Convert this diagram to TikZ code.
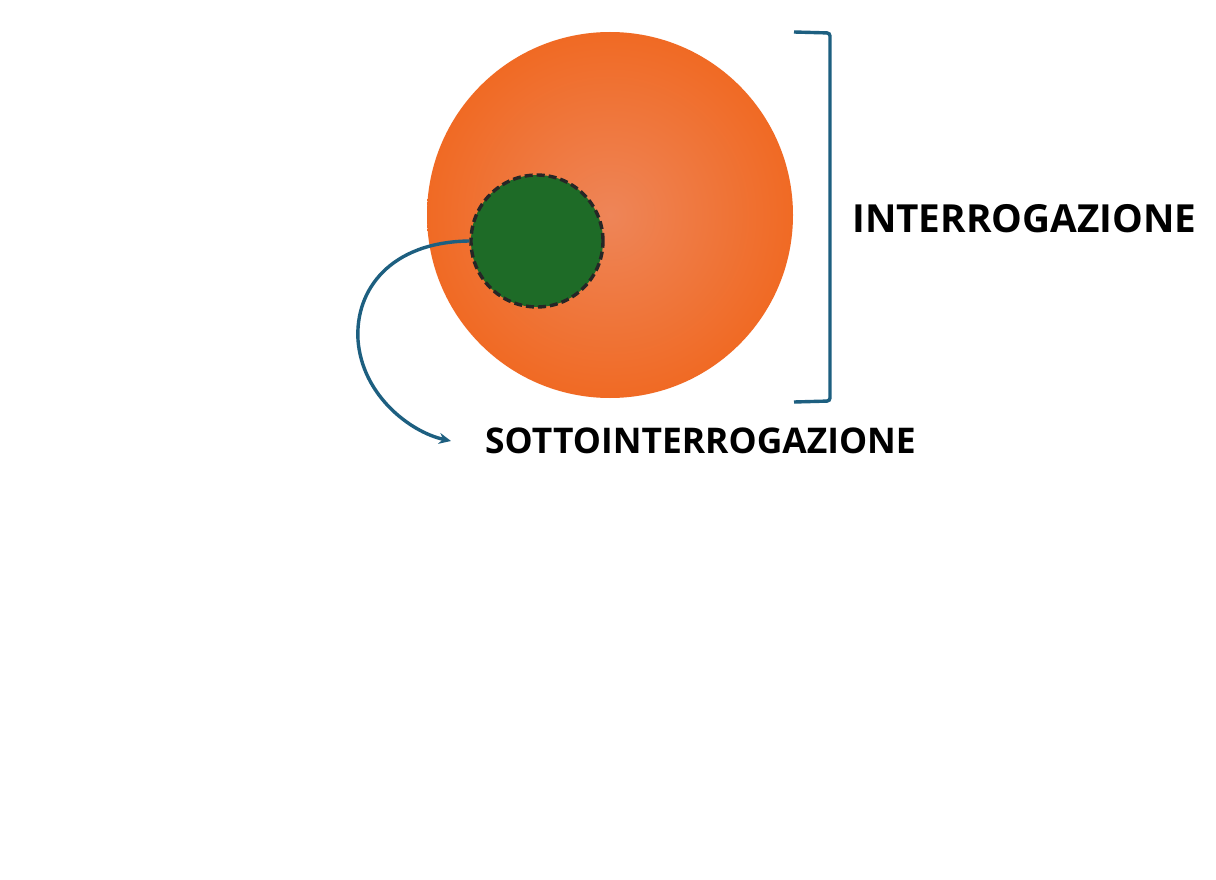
\documentclass[tikz,border=0pt]{standalone}
\usepackage{fontspec}
\setmainfont{Open Sans}
\usetikzlibrary{arrows.meta}
\definecolor{orangeA}{HTML}{F06A24}
\definecolor{orangeB}{HTML}{EE8558}
\definecolor{greenA}{HTML}{1E6B27}
\definecolor{blueA}{HTML}{1D5F80}
\tikzset{
  lbl/.style={font=\bfseries\fontsize{38.7}{42}\selectfont, text=black, inner sep=0pt},
  conn/.style={draw=blueA, line width=3.4pt},
}
\begin{document}
\begin{tikzpicture}[x=1pt,y=-1pt]
\useasboundingbox[fill=white] (0,0) rectangle (1216,880);
% big circle
\shade[inner color=orangeB, outer color=orangeA] (610,215) circle[radius=183];
\node[circle, minimum size=366pt, inner sep=0pt] (big) at (610,215) {};
% small circle
\node[circle, fill=greenA, draw=black!85, line width=3.4pt, dash pattern=on 8pt off 4pt,
      minimum size=132pt, inner sep=0pt] (small) at (537,241) {};
% labels
\node[lbl, anchor=west] (inter) at (852,219) {INTERROGAZIONE};
\node[lbl, anchor=west, font=\bfseries\fontsize{35.4}{38}\selectfont] (sotto) at (485,441) {SOTTOINTERROGAZIONE};
% bracket
\coordinate (bt) at (794,32);
\coordinate (bb) at (794,402);
\draw[conn, rounded corners=3pt] (bt) -- (830,33) -- (830,401) -- (bb);
% arrow
\draw[conn, -{Stealth[length=12pt,width=11pt]}] (small.west)
  .. controls (390,242) and (355,290) .. (358,340)
  .. controls (362,395) and (410,432) .. ([xshift=-34pt]sotto.west);
\end{tikzpicture}
\end{document}
